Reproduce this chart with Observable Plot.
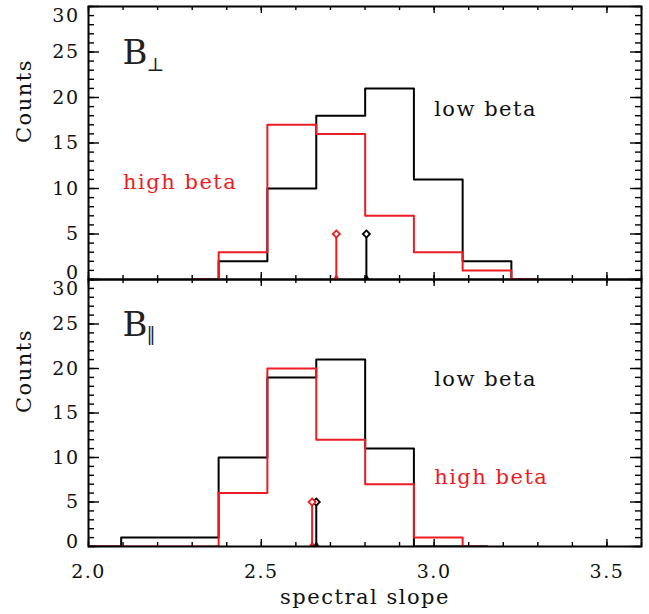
<!DOCTYPE html>
<html><head><meta charset="utf-8">
<script src="https://cdn.jsdelivr.net/npm/d3@7"></script>
<script src="https://cdn.jsdelivr.net/npm/@observablehq/plot@0.6"></script>
<style>
body{margin:0;background:#fff}
#wrap{position:relative;width:649px;height:614px}
#wrap svg{position:absolute;left:0;overflow:visible;background:transparent}
</style>
</head><body><div id="wrap"></div>
<script>
// ---- data ----
// B_perp panel: histogram bin centres and counts
const perpCenters = [2.306, 2.447, 2.588, 2.730, 2.871, 3.012, 3.153, 3.294];
const perpLow  = [0, 2, 10, 18, 21, 11, 2, 0];
const perpHigh = [0, 3, 17, 16, 7, 3, 1, 0];
const perpStemLow = 2.804, perpStemHigh = 2.717;
// B_par panel
const parCenters = [1.883, 2.024, 2.165, 2.306, 2.447, 2.588, 2.730, 2.871, 3.012, 3.153];
const parLow  = [0, 0, 1, 1, 10, 19, 21, 11, 0, 0];
const parHigh = [0, 0, 0, 0, 6, 20, 12, 7, 1, 0];
const parStemLow = 2.659, parStemHigh = 2.647;
const stemHeight = 5;
// annotation positions (data units)
const perpLowLabel = {x: 3.0, y: 18}, perpHighLabel = {x: 2.1, y: 10};
const parLowLabel = {x: 3.0, y: 18}, parHighLabel = {x: 3.0, y: 7};
// ticks
const xDomain = [2.0, 3.6], yDomain = [0, 30];
const xMajor = [2.0, 2.5, 3.0, 3.5];
const xMinor = d3.range(0, 17).map(i => +(2 + i * 0.1).toFixed(1));
const yMajor = [0, 5, 10, 15, 20, 25, 30];
const yMinor = d3.range(0, 31);
const yLabelsMid = [5, 10, 15, 20, 25];

const RED = "#ec1c24";
const FONT = "DejaVu Serif";
const W = 649, ML = 88, MR = 8, MT = 6;
const FW = W - ML - MR;

// inward ticks on all four sides as short rules; lengths converted from pixels to data units
function frameTicks(FH) {
  const tw = 1.4;
  const uy = (yDomain[1] - yDomain[0]) / FH, ux = (xDomain[1] - xDomain[0]) / FW;
  const mk = [];
  for (const [data, len] of [[xMinor, 4], [xMajor, 7]]) {
    mk.push(Plot.ruleX(data, {x: d => d, y1: yDomain[0], y2: yDomain[0] + len * uy, stroke: "black", strokeWidth: tw}));
    mk.push(Plot.ruleX(data, {x: d => d, y1: yDomain[1], y2: yDomain[1] - len * uy, stroke: "black", strokeWidth: tw}));
  }
  for (const [data, len] of [[yMinor, 6], [yMajor, 11]]) {
    mk.push(Plot.ruleY(data, {y: d => d, x1: xDomain[0], x2: xDomain[0] + len * ux, stroke: "black", strokeWidth: tw}));
    mk.push(Plot.ruleY(data, {y: d => d, x1: xDomain[1], x2: xDomain[1] - len * ux, stroke: "black", strokeWidth: tw}));
  }
  return mk;
}

function panel({centers, low, high, stemLow, stemHigh, lowLabel, highLabel, sub, subSize, subDy, bDy, zeroDy, frameH, marginBottom, showX}) {
  const rows = centers.map((c, i) => ({x: c, low: low[i], high: high[i]}));
  const stems = [{x: stemLow, c: "black"}, {x: stemHigh, c: RED}];
  const marks = [
    Plot.line(rows, {x: "x", y: "low", curve: "step", stroke: "black", strokeWidth: 2, clip: true}),
    Plot.line(rows, {x: "x", y: "high", curve: "step", stroke: RED, strokeWidth: 2, clip: true}),
    Plot.ruleX(stems, {x: "x", y1: 0, y2: stemHeight, stroke: "c", strokeWidth: 2}),
    Plot.dot(stems, {x: "x", y: stemHeight, symbol: "diamond2", r: 3.2, stroke: "c", strokeWidth: 1.8, fill: "white"}),
    Plot.dot(stems, {x: "x", y: 0, symbol: "triangle", r: 2.6, fill: "c", dy: -1.5}),
    ...frameTicks(frameH),
    Plot.axisY(yLabelsMid, {anchor: "left", tickSize: 0, tickPadding: 9, fontSize: 19, fill: "#111", label: null}),
    Plot.axisY([30], {anchor: "left", tickSize: 0, tickPadding: 9, fontSize: 19, dy: 9, fill: "#111", label: null}),
    Plot.axisY([0], {anchor: "left", tickSize: 0, tickPadding: 9, fontSize: 19, dy: zeroDy, fill: "#111", label: null}),
    Plot.text(["Counts"], {frameAnchor: "left", dx: -64, rotate: -90, fontSize: 21, fill: "#111"}),
    Plot.text(["B"], {frameAnchor: "top-left", dx: 34, dy: bDy, fontSize: 34, textAnchor: "start", lineAnchor: "bottom", fill: "#222"}),
    Plot.text([sub], {frameAnchor: "top-left", dx: 58, dy: subDy, fontSize: subSize, textAnchor: "start", lineAnchor: "bottom", fill: "#222"}),
    Plot.text([lowLabel], {x: "x", y: "y", text: () => "low beta", fontSize: 21, textAnchor: "start", lineAnchor: "bottom", fill: "#111"}),
    Plot.text([highLabel], {x: "x", y: "y", text: () => "high beta", fontSize: 21, textAnchor: "start", lineAnchor: "bottom", fill: RED}),
    Plot.frame({stroke: "black", strokeWidth: 2})
  ];
  if (showX) {
    marks.push(
      Plot.axisX(xMajor, {anchor: "bottom", tickSize: 0, tickPadding: 18, tickFormat: d3.format(".1f"), fontSize: 19, fill: "#111", label: null}),
      Plot.text(["spectral slope"], {frameAnchor: "bottom", dy: 57, fontSize: 21, lineAnchor: "bottom", fill: "#111"})
    );
  }
  return Plot.plot({
    width: W, height: MT + frameH + marginBottom, marginLeft: ML, marginRight: MR, marginTop: MT, marginBottom,
    style: {fontFamily: FONT, letterSpacing: "1.5px", background: "transparent", overflow: "visible"},
    x: {domain: xDomain, axis: null},
    y: {domain: yDomain, axis: null},
    marks
  });
}

const topPlot = panel({centers: perpCenters, low: perpLow, high: perpHigh, stemLow: perpStemLow, stemHigh: perpStemHigh,
  lowLabel: perpLowLabel, highLabel: perpHighLabel, sub: "⊥", subSize: 19, subDy: 64, bDy: 57, zeroDy: -7,
  frameH: 273, marginBottom: 6, showX: false});
const botPlot = panel({centers: parCenters, low: parLow, high: parHigh, stemLow: parStemLow, stemHigh: parStemHigh,
  lowLabel: parLowLabel, highLabel: parHighLabel, sub: "‖", subSize: 18, subDy: 60, bDy: 56, zeroDy: -5,
  frameH: 267, marginBottom: 68, showX: true});
topPlot.style.top = "0px";
botPlot.style.top = "273px";
document.getElementById("wrap").append(botPlot, topPlot);
</script>
</body></html>
